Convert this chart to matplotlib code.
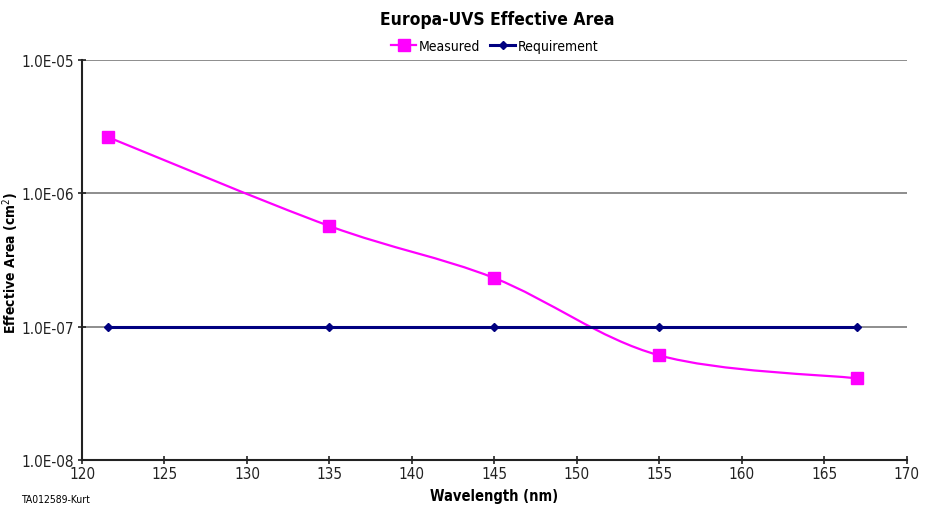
import numpy as np
import matplotlib
matplotlib.use("Agg")
from matplotlib import pyplot as plt
from matplotlib.path import Path
from matplotlib.patches import PathPatch
from matplotlib.lines import Line2D
from matplotlib.ticker import FixedLocator, FuncFormatter, NullLocator

plt.rcParams['font.family'] = ['DejaVu Sans']
plt.rcParams['font.stretch'] = 'condensed'

# data
wavelength = [121.6, 135, 145, 155, 167]
measured = [2.64e-6, 5.7e-7, 2.32e-7, 6.1e-8, 4.1e-8]
requirement = [1e-7, 1e-7, 1e-7, 1e-7, 1e-7]
x_ticks = [120, 125, 130, 135, 140, 145, 150, 155, 160, 165, 170]
y_ticks = [1e-8, 1e-7, 1e-6, 1e-5]


def smooth_path(xs, ys):
    """Excel-like smoothed line: cubic Bezier through points, computed in (x, log y)."""
    px = np.asarray(xs, float)
    py = np.log10(np.asarray(ys, float))
    verts = [(px[0], py[0])]
    codes = [Path.MOVETO]
    n = len(px)
    for i in range(n - 1):
        i0 = max(i - 1, 0)
        i3 = min(i + 2, n - 1)
        c1 = (px[i] + (px[i + 1] - px[i0]) / 6, py[i] + (py[i + 1] - py[i0]) / 6)
        c2 = (px[i + 1] - (px[i3] - px[i]) / 6, py[i + 1] - (py[i3] - py[i]) / 6)
        verts += [c1, c2, (px[i + 1], py[i + 1])]
        codes += [Path.CURVE4] * 3
    verts = [(vx, 10 ** vy) for vx, vy in verts]
    return Path(verts, codes)


fig = plt.figure(figsize=(9.27, 5.10), dpi=100)
ax = fig.add_axes([0.0885, 0.096, 0.8895, 0.784])
ax.set_yscale('log')
ax.set_xlim(120, 170)
ax.set_ylim(1e-8, 1e-5)

ax.yaxis.set_major_locator(FixedLocator(y_ticks))
ax.yaxis.set_minor_locator(NullLocator())
ax.yaxis.set_major_formatter(FuncFormatter(lambda v, p: "1.0E-%02d" % round(-np.log10(v))))
ax.set_xticks(x_ticks)
ax.grid(axis='y', color='#858585', linewidth=1.3)
ax.set_axisbelow(True)

for s in ['top', 'right']:
    ax.spines[s].set_visible(False)
for s in ['left', 'bottom']:
    ax.spines[s].set_linewidth(1.5)
    ax.spines[s].set_color('#222222')
ax.tick_params(direction='inout', length=6, width=1.2, labelsize=11, colors='#222222')
ax.tick_params(axis='x', pad=1)
ax.tick_params(axis='y', pad=3)

# Measured: smoothed line + square markers
ax.add_patch(PathPatch(smooth_path(wavelength, measured), facecolor='none',
                       edgecolor='#ff00ff', linewidth=1.6, zorder=3))
ax.plot(wavelength, measured, linestyle='none', marker='s', markersize=8,
        color='#ff00ff', zorder=4)

# Requirement
ax.plot(wavelength, requirement, color='#000080', linewidth=2.2, marker='D',
        markersize=4.5, zorder=3)

ax.set_xlabel('Wavelength (nm)', fontsize=10.5, fontweight='bold', labelpad=5)
ax.set_ylabel('Effective Area (cm$^2$)', fontsize=10, fontweight='bold')
ax.yaxis.set_label_coords(-0.074, 0.495)

fig.text(0.536, 0.961, 'Europa-UVS Effective Area', ha='center', va='center',
         fontsize=12.5, fontweight='bold')

handles = [Line2D([], [], color='#ff00ff', linewidth=1.6, marker='s', markersize=8),
           Line2D([], [], color='#000080', linewidth=2.2, marker='D', markersize=4.5)]
fig.legend(handles, ['Measured', 'Requirement'], loc='center', bbox_to_anchor=(0.534, 0.908),
           ncol=2, frameon=False, fontsize=10, handlelength=1.8, handletextpad=0.2,
           columnspacing=0.7, borderaxespad=0)

fig.text(0.023, 0.02, 'TA012589-Kurt', fontsize=7.5, ha='left', va='center')

fig.savefig('out.png', dpi=100)
